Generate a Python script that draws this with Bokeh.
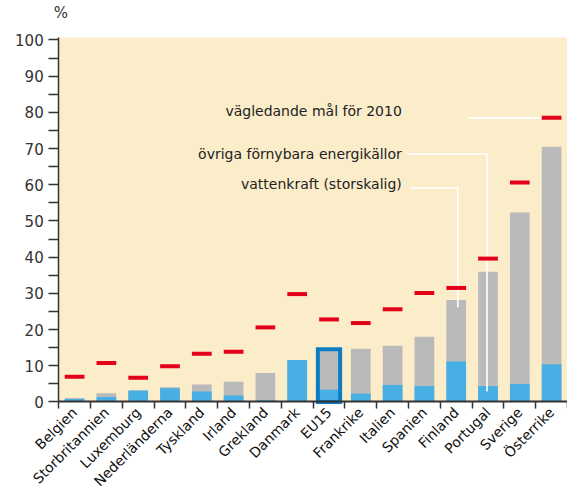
from bokeh.plotting import figure
from bokeh.models import FixedTicker, Range1d, BoxAnnotation
from bokeh.core.properties import value
from bokeh.embed import file_html
from bokeh.resources import INLINE
import math

countries = ["Belgien", "Storbritannien", "Luxemburg", "Nederländerna", "Tyskland",
             "Irland", "Grekland", "Danmark", "EU15", "Frankrike", "Italien",
             "Spanien", "Finland", "Portugal", "Sverige", "Österrike"]
hydro = [0.8, 1.35, 3.2, 3.8, 2.9, 1.8, 0.5, 11.6, 3.4, 2.3, 4.7, 4.4, 11.2, 4.4, 5.0, 10.4]
total = [1.1, 2.4, 3.2, 4.1, 4.8, 5.6, 8.0, 11.6, 14.1, 14.7, 15.5, 18.0, 28.2, 36.0, 52.3, 70.5]
target = [7.0, 10.8, 6.7, 9.9, 13.3, 13.9, 20.6, 29.8, 22.8, 21.8, 25.6, 30.1, 31.5, 39.6, 60.6, 78.5]
y_ticks = [0, 10, 20, 30, 40, 50, 60, 70, 80, 90, 100]
legend_texts = ["vägledande mål för 2010", "övriga förnybara energikällor", "vattenkraft (storskalig)"]
unit_label = "%"
highlight = "EU15"

FONT = "DejaVu Sans"
BEIGE = "#FCEDCA"
BLUE = "#48AFE4"
GRAY = "#BABABA"
RED = "#E2001A"
DARK = "#333333"

n = len(countries)
xc = [i + 0.5 for i in range(n)]
bw = 0.62
Y_TOP = 100.66

# the frame fills the whole figure; axes sit at x=0 / y=0 inside it
p = figure(width=567, height=493, output_backend="svg", toolbar_location=None,
           x_range=Range1d(-1.83, n), y_range=Range1d(-25.27, 110.88),
           min_border_left=0, min_border_right=0, min_border_top=0, min_border_bottom=0)
p.background_fill_color = "white"
p.border_fill_color = "white"
p.outline_line_color = None
p.grid.visible = False
p.add_layout(BoxAnnotation(left=0, bottom=0, top=Y_TOP, fill_color=BEIGE, fill_alpha=1,
                           line_color=None, level="underlay"))

# unit label above the y axis
p.text(x=[0.07], y=[107.5], text=[unit_label], text_align="center", text_baseline="middle",
       text_font=value(FONT), text_font_size="15px", text_color=DARK)

# bars
p.vbar(x=xc, top=total, width=bw, bottom=0, fill_color=GRAY, line_color=None)
p.vbar(x=xc, top=hydro, width=bw, bottom=0, fill_color=BLUE, line_color=None)

# EU15 outline
i_eu = countries.index(highlight)
p.quad(left=[xc[i_eu] - 0.35], right=[xc[i_eu] + 0.35], bottom=[0], top=[total[i_eu] + 0.5],
       fill_color=None, line_color="#0A7DC4", line_width=4, line_join="miter")

# white leader lines
i_fi = countries.index("Finland")
i_pt = countries.index("Portugal")
i_at = countries.index("Österrike")
p.line(x=[12.87, xc[i_at]], y=[78.4, 78.4], line_color="white", line_width=1.6)
p.line(x=[10.97, xc[i_pt] - 0.03, xc[i_pt] - 0.03], y=[68.5, 68.5, 2.9], line_color="white", line_width=1.6)
p.line(x=[11.03, xc[i_fi] + 0.05, xc[i_fi] + 0.05], y=[59.1, 59.1, 26.2], line_color="white", line_width=1.6)

# targets
p.segment(x0=[x - bw / 2 for x in xc], x1=[x + bw / 2 for x in xc], y0=target, y1=target,
          line_color=RED, line_width=4)

# legend texts
p.text(x=[10.79] * 3, y=[80.4, 68.4, 60.1], text=legend_texts, text_align="right",
       text_baseline="middle", text_font=value(FONT), text_font_size="14px", text_color="#222222")

# y axis at x=0
ya = p.yaxis[0]
ya.fixed_location = 0
ya.bounds = (0, Y_TOP)
ya.ticker = FixedTicker(ticks=y_ticks, minor_ticks=[v + 5 for v in y_ticks[:-1]])
ya.major_tick_out = 10
ya.major_tick_in = 0
ya.minor_tick_out = 10
ya.minor_tick_in = 0
ya.axis_line_color = DARK
ya.axis_line_width = 1.5
ya.major_tick_line_color = DARK
ya.minor_tick_line_color = DARK
ya.major_tick_line_width = 1.5
ya.minor_tick_line_width = 1.5
ya.major_label_text_font = FONT
ya.major_label_text_font_size = "15px"
ya.major_label_text_color = DARK
ya.major_label_standoff = 5

# x axis at y=0: boundary ticks (minor), category names on centre ticks, rotated
xa = p.xaxis[0]
xa.fixed_location = 0
xa.bounds = (0, n)
xa.ticker = FixedTicker(ticks=xc, minor_ticks=list(range(n + 1)))
xa.major_label_overrides = {x: c for x, c in zip(xc, countries)}
xa.major_label_orientation = math.pi / 4
xa.major_label_text_font = FONT
xa.major_label_text_font_size = "14px"
xa.major_label_text_color = "#111111"
xa.major_label_standoff = 1
xa.major_tick_line_color = None
xa.major_tick_out = 0
xa.major_tick_in = 0
xa.minor_tick_out = 7
xa.minor_tick_in = 0
xa.minor_tick_line_color = DARK
xa.minor_tick_line_width = 1.5
xa.axis_line_color = DARK
xa.axis_line_width = 2

open("out.html", "w").write(file_html(p, INLINE))
